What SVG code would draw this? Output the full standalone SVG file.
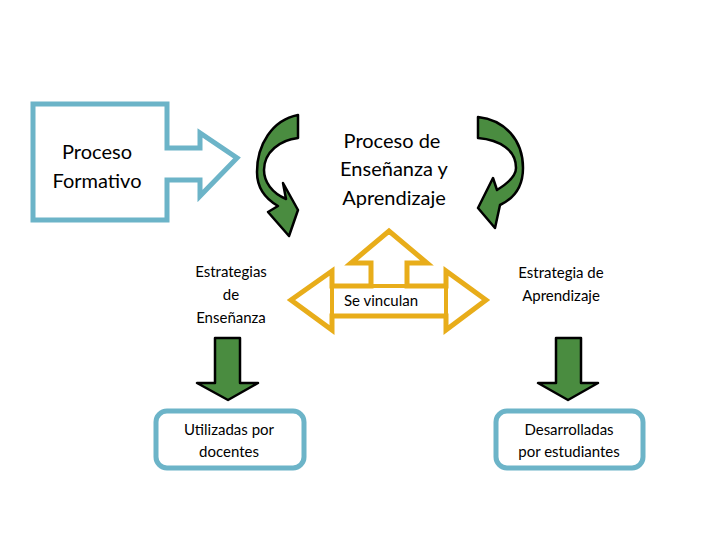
<svg xmlns="http://www.w3.org/2000/svg" width="720" height="540" viewBox="0 0 720 540">
<style>
text{font-family:Lato,"Liberation Sans",sans-serif;fill:#000;text-anchor:middle}
.big{font-size:20px}
.sm{font-size:15px}
.blue{fill:#fff;stroke:#6cb4c8;stroke-width:5}
.grn{fill:#4a8c40;stroke:#000;stroke-width:2.5;stroke-linejoin:round}
.yel{fill:#fff;stroke:#e8ad1a;stroke-width:5;stroke-linejoin:miter}
</style>
<rect width="720" height="540" fill="#fff"/>
<g id="formativo">
<path class="blue" d="M33,104 L167,104 L167,148 L200,148 L200,133 L237,158 L200,196 L200,180 L167,180 L167,220 L33,220 Z"/>
<text class="big" x="97" y="159">Proceso</text>
<text class="big" x="97" y="188">Formativo</text>
</g>
<g id="connectors">
<path class="grn" d="M298,115 L298,138 C280,140 264,152 264,170 C264,182 272,193 286,199 L283,183 L298,210 L289,236 L268,212 L278,206 C264,198 257,186 257,172 C257,145 272,120 298,115 Z"/>
<path class="grn" d="M478,117 C505,120 523,140 523,168 C523,185 515,198 500,205 L495,228 L478,208 L493,178 L497,190 C510,182 516,175 516,168 C516,150 500,140 478,138 Z"/>
<path class="yel" d="M291,300 L332,271 L332,286 L371,286 L371,263 L351,263 L389,231 L427,263 L407,263 L407,286 L446,286 L446,271 L486,300 L446,330 L446,316 L332,316 L332,330 Z"/>
<rect x="332" y="286" width="114" height="30" fill="none" stroke="#e8ad1a" stroke-width="4"/>
<path class="grn" d="M215,338 L240,338 L240,383 L258,383 L228,400 L197,383 L215,383 Z"/>
<path class="grn" d="M556,338 L581,338 L581,383 L598,383 L568,400 L538,383 L556,383 Z"/>
</g>
<g id="proceso">
<text class="big" x="392" y="148">Proceso de</text>
<text class="big" x="394" y="176">Enseñanza y</text>
<text class="big" x="394" y="205">Aprendizaje</text>
</g>
<g id="estrategias">
<text class="sm" x="231" y="277">Estrategias</text>
<text class="sm" x="231" y="300">de</text>
<text class="sm" x="231" y="323">Enseñanza</text>
</g>
<g id="vinculan"><text class="sm" x="381" y="306">Se vinculan</text></g>
<g id="aprendizaje">
<text class="sm" x="561" y="278">Estrategia de</text>
<text class="sm" x="561" y="301">Aprendizaje</text>
</g>
<g id="docentes">
<rect class="blue" x="156" y="411" width="148" height="57" rx="11"/>
<text class="sm" x="229" y="435">Utilizadas por</text>
<text class="sm" x="229" y="457">docentes</text>
</g>
<g id="estudiantes">
<rect class="blue" x="496" y="411" width="147" height="57" rx="11"/>
<text class="sm" x="569" y="435">Desarrolladas</text>
<text class="sm" x="569" y="457">por estudiantes</text>
</g>
</svg>
